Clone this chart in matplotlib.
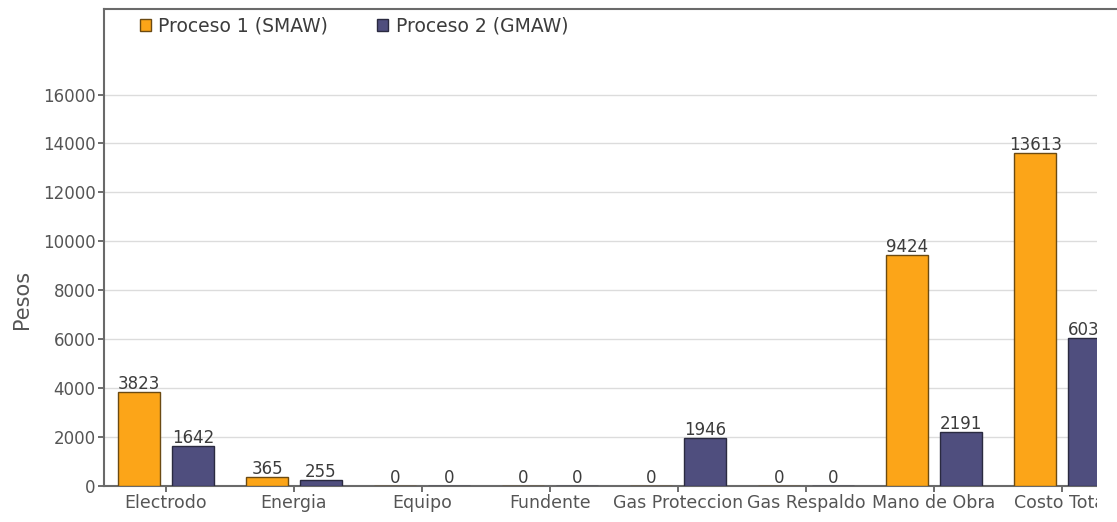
import numpy as np
import matplotlib
matplotlib.use('Agg')
import matplotlib.pyplot as plt
from matplotlib.patches import Patch, Rectangle

categorias = ['Electrodo', 'Energia', 'Equipo', 'Fundente', 'Gas Proteccion',
              'Gas Respaldo', 'Mano de Obra', 'Costo Total']
smaw = [3823, 365, 0, 0, 0, 0, 9424, 13613]
gmaw = [1642, 255, 0, 0, 1946, 0, 2191, 6034]
nombres = ['Proceso 1 (SMAW)', 'Proceso 2 (GMAW)']
yticks = [0, 2000, 4000, 6000, 8000, 10000, 12000, 14000, 16000]

c_smaw = '#fca518'
c_gmaw = '#4f4e7e'
gris = '#555555'

plt.rcParams['font.family'] = ['DejaVu Sans']

fig = plt.figure(figsize=(11.17, 5.22), dpi=100)
ax = fig.add_axes([0.0931, 0.069, 0.915, 0.914])

x = np.arange(len(categorias))
w = 0.33
off = 0.21
b1 = ax.bar(x - off, smaw, w, color=c_smaw, edgecolor='#6b4a12', linewidth=1, zorder=3)
b2 = ax.bar(x + off, gmaw, w, color=c_gmaw, edgecolor='#2a2a40', linewidth=1, zorder=3)

for bars, vals in ((b1, smaw), (b2, gmaw)):
    for r, v in zip(bars, vals):
        ax.text(r.get_x() + r.get_width() / 2, v - 40, str(v), ha='center', va='bottom',
                fontsize=12, color='#3c3c3c', zorder=4)

ax.set_xlim(-0.484, 7.5)
ax.set_ylim(0, 19500)
ax.set_yticks(yticks)
ax.set_yticklabels([str(t) for t in yticks], fontsize=12, color=gris)
ax.set_xticks(x)
ax.set_xticklabels(categorias, fontsize=12.5, color=gris)
ax.tick_params(axis='both', direction='out', length=4, width=1.2, color=gris, pad=2)
ax.grid(axis='y', color='#dcdcdc', linewidth=1, zorder=0)
for s in ax.spines.values():
    s.set_color('#6a6a6a')
    s.set_linewidth(1.5)

ax.set_ylabel('Pesos', fontsize=15, color=gris)
ax.yaxis.set_label_coords(-0.07, 0.39)

handles = [Patch(facecolor=c_smaw, edgecolor='#6b4a12'), Patch(facecolor=c_gmaw, edgecolor='#2a2a40')]
fig.legend(handles, nombres, loc='center left', bbox_to_anchor=(0.125, 0.95), ncol=2,
           frameon=False, fontsize=13.5, handlelength=0.6, handleheight=0.6,
           handletextpad=0.4, columnspacing=2.6, borderpad=0, borderaxespad=0,
           labelcolor='#3c3c3c')

# the screenshot is cut off at the right edge
fig.patches.append(Rectangle((0.982, 0), 0.02, 0.975, transform=fig.transFigure,
                             facecolor='white', edgecolor='none', zorder=10))

fig.savefig('out.png', dpi=100)
